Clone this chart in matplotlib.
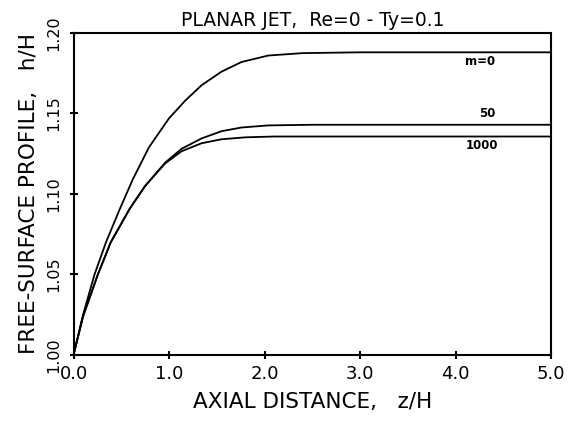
import numpy as np
import matplotlib
matplotlib.use('Agg')
import matplotlib.pyplot as plt

# free-surface profiles, h/H vs z/H
z_m0 = [0.0, 0.10, 0.22, 0.34, 0.48, 0.62, 0.79, 1.00, 1.17, 1.34, 1.55, 1.76, 2.04, 2.40, 3.00, 4.00, 5.00]
h_m0 = [1.000, 1.025, 1.050, 1.070, 1.090, 1.109, 1.129, 1.147, 1.158, 1.1675, 1.176, 1.182, 1.186, 1.1875, 1.188, 1.188, 1.188]

z_m50 = [0.0, 0.10, 0.255, 0.39, 0.59, 0.75, 0.96, 1.13, 1.34, 1.55, 1.76, 2.04, 2.50, 3.00, 5.00]
h_m50 = [1.000, 1.024, 1.050, 1.070, 1.091, 1.105, 1.1195, 1.128, 1.1345, 1.139, 1.1413, 1.1426, 1.143, 1.143, 1.143]

z_m1000 = [0.0, 0.10, 0.255, 0.39, 0.59, 0.75, 0.96, 1.13, 1.34, 1.55, 1.80, 2.10, 3.00, 5.00]
h_m1000 = [1.000, 1.024, 1.050, 1.070, 1.091, 1.105, 1.119, 1.1265, 1.1315, 1.134, 1.1352, 1.1357, 1.1357, 1.1357]

curve_labels = ['m=0', '50', '1000']
label_pos = [(4.26, 1.182), (4.33, 1.150), (4.28, 1.1304)]

x_ticks = [0.0, 1.0, 2.0, 3.0, 4.0, 5.0]
y_ticks = [1.00, 1.05, 1.10, 1.15, 1.20]

fig = plt.figure(figsize=(5.69, 4.23), dpi=100)
ax = fig.add_axes([0.1292, 0.1608, 0.8392, 0.7612])

for z, h in [(z_m0, h_m0), (z_m50, h_m50), (z_m1000, h_m1000)]:
    ax.plot(z, h, color='black', lw=1.3, solid_joinstyle='round')

for lab, (x, y) in zip(curve_labels, label_pos):
    ax.text(x, y, lab, fontsize=8.5, fontweight='bold', ha='center', va='center')

ax.set_xlim(0, 5)
ax.set_ylim(1.0, 1.2)
ax.set_xticks(x_ticks)
ax.set_xticklabels([f"{t:.1f}" for t in x_ticks])
ax.set_yticks(y_ticks)
ax.set_yticklabels([f"{t:.2f}" for t in y_ticks], rotation=90, va='center')

for s in ax.spines.values():
    s.set_linewidth(1.5)

ax.tick_params(direction='inout', length=6, width=1.5, pad=4)
ax.tick_params(axis='x', labelsize=13)
ax.tick_params(axis='y', labelsize=11.5, pad=6)

ax.set_title('PLANAR JET,  Re=0 - Ty=0.1', fontsize=13.5, pad=5)
ax.set_xlabel('AXIAL DISTANCE,   z/H', fontsize=15.5, labelpad=7)
ax.set_ylabel('FREE-SURFACE PROFILE,   h/H', fontsize=15.5, labelpad=5)

fig.savefig('out.png', dpi=100)
